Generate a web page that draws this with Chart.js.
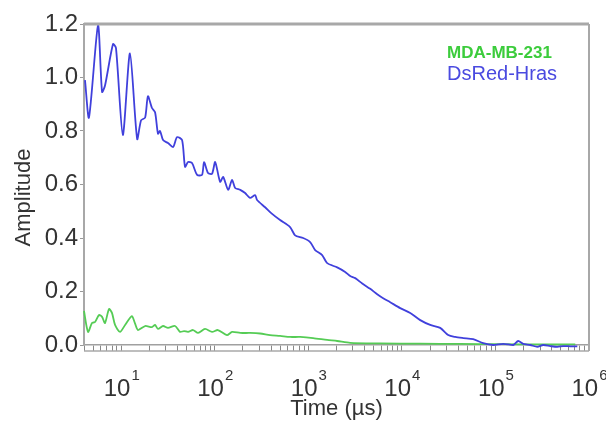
<!DOCTYPE html>
<html>
<head>
<meta charset="utf-8">
<script src="https://cdn.jsdelivr.net/npm/chart.js@4"></script>
<style>
  html, body { margin: 0; padding: 0; background: #fff; }
  #wrap { width: 606px; height: 425px; position: relative; }
</style>
</head>
<body>
<div id="wrap"><canvas id="chart"></canvas></div>
<script>
// time in µs, amplitude
const hrasTime = [4.1, 4.52, 5.65, 6.24, 6.71, 8.17, 8.79, 10.4, 12.4, 14.8, 16.3, 18.0, 19.3, 21.3, 23.0, 24.7, 26.0, 28.0, 31.6, 35.8, 39.5, 44.7, 48.1, 51.8, 57.1, 64.7, 73.1, 76.8, 84.7, 93.5, 101, 114, 123, 139, 153, 165, 187, 211, 238, 270, 283, 345, 410, 499, 638, 722, 880, 1045, 1182, 1405, 1590, 2033, 2476, 2800, 3170, 3767, 4585, 5446, 6310, 7495, 9590, 12270, 15700, 20090, 25660, 31260, 37150, 45200, 57800, 73900, 94600, 121000, 155000, 175000, 198000, 235500, 280000, 324000, 385000, 458000, 531000, 631000, 750000];
const hrasAmp = [0.99, 0.85, 1.195, 0.946, 0.97, 1.125, 1.11, 0.785, 1.09, 0.77, 0.84, 0.85, 0.93, 0.886, 0.87, 0.79, 0.80, 0.766, 0.755, 0.74, 0.777, 0.766, 0.666, 0.684, 0.68, 0.636, 0.636, 0.684, 0.643, 0.64, 0.684, 0.61, 0.628, 0.58, 0.617, 0.587, 0.58, 0.568, 0.55, 0.56, 0.542, 0.515, 0.49, 0.467, 0.441, 0.41, 0.40, 0.385, 0.355, 0.336, 0.306, 0.29, 0.273, 0.258, 0.25, 0.23, 0.21, 0.19, 0.175, 0.16, 0.138, 0.12, 0.093, 0.075, 0.064, 0.037, 0.03, 0.026, 0.022, 0.007, 0.0, 0.004, 0.0, 0.015, 0.004, 0.0, -0.007, 0.0, -0.004, -0.007, -0.004, -0.005, -0.005];

const mdaTime = [4.0, 4.42, 4.87, 5.25, 5.79, 6.24, 6.71, 7.40, 7.96, 8.59, 9.71, 11.0, 13.0, 14.0, 15.1, 18.0, 21.3, 23.0, 24.7, 28.0, 31.6, 37.6, 42.5, 46.9, 51.8, 58.6, 66.3, 78.7, 93.5, 108, 135, 153, 187, 238, 305, 390, 499, 638, 817, 1125, 1590, 2033, 2800, 5860, 15700, 42100, 112000, 301000, 713000];
const mdaAmp = [0.127, 0.049, 0.082, 0.086, 0.112, 0.105, 0.082, 0.135, 0.12, 0.075, 0.049, 0.075, 0.108, 0.082, 0.056, 0.071, 0.067, 0.075, 0.06, 0.071, 0.064, 0.071, 0.049, 0.052, 0.049, 0.056, 0.045, 0.06, 0.049, 0.056, 0.037, 0.049, 0.045, 0.045, 0.043, 0.037, 0.034, 0.03, 0.03, 0.026, 0.019, 0.015, 0.008, 0.006, 0.005, 0.004, 0.003, 0.002, 0.002];

const decades = [1, 2, 3, 4, 5, 6];
const yTicks = [0, 0.2, 0.4, 0.6, 0.8, 1.0, 1.2];
const FONT = '"Liberation Sans", Arial, sans-serif';

const toPoints = (xs, ys) => xs.map((x, i) => ({ x: x, y: ys[i] }));

// frame, bottom tick band, 10^n labels, y title, legend text
const decor = {
  id: 'decor',
  afterDraw(chart) {
    const { ctx, chartArea: a, scales } = chart;
    ctx.save();
    ctx.strokeStyle = '#a8a8a8';
    ctx.lineWidth = 3;
    ctx.beginPath();
    ctx.moveTo(a.left, a.top);
    ctx.lineTo(a.right, a.top);
    ctx.stroke();
    ctx.lineWidth = 2;
    ctx.beginPath();
    ctx.moveTo(a.right, a.top);
    ctx.lineTo(a.right, a.bottom + 6);
    ctx.stroke();
    ctx.lineWidth = 1.5;
    ctx.beginPath();
    ctx.moveTo(a.left, a.bottom + 6);
    ctx.lineTo(a.right, a.bottom + 6);
    ctx.stroke();

    ctx.fillStyle = '#333';
    ctx.textBaseline = 'alphabetic';
    decades.forEach((n) => {
      const x = scales.x.getPixelForValue(Math.pow(10, n));
      ctx.font = '24px ' + FONT;
      const w1 = ctx.measureText('10').width;
      ctx.font = '15px ' + FONT;
      const w2 = ctx.measureText(String(n)).width;
      const x0 = x - (w1 + w2) / 2;
      ctx.font = '24px ' + FONT;
      ctx.textAlign = 'left';
      ctx.fillText('10', x0, a.bottom + 51);
      ctx.font = '15px ' + FONT;
      ctx.fillText(String(n), x0 + w1 + 1, a.bottom + 35);
    });

    // y title sits a little below the axis centre in the original
    ctx.save();
    ctx.translate(24, (a.top + a.bottom) / 2 + 13);
    ctx.rotate(-Math.PI / 2);
    ctx.textAlign = 'center';
    ctx.textBaseline = 'middle';
    ctx.font = '22px ' + FONT;
    ctx.fillText('Amplitude', 0, 0);
    ctx.restore();

    ctx.textAlign = 'left';
    ctx.font = 'bold 17px ' + FONT;
    ctx.fillStyle = '#3ccc3c';
    ctx.fillText('MDA-MB-231', a.right - 142, a.top + 34);
    ctx.font = '20px ' + FONT;
    ctx.fillStyle = '#4a4ae0';
    ctx.fillText('DsRed-Hras', a.right - 142, a.top + 56);
    ctx.restore();
  }
};

new Chart(document.getElementById('chart'), {
  type: 'line',
  data: {
    datasets: [
      { label: 'DsRed-Hras', data: toPoints(hrasTime, hrasAmp), borderColor: '#4040dc', borderWidth: 1.8, pointRadius: 0, tension: 0.25, clip: 6 },
      { label: 'MDA-MB-231', data: toPoints(mdaTime, mdaAmp), borderColor: '#55cc55', borderWidth: 1.8, pointRadius: 0, tension: 0.25, clip: 6 }
    ]
  },
  options: {
    responsive: true,
    maintainAspectRatio: false,
    animation: false,
    layout: { padding: { top: 24, right: 17, bottom: 3, left: 0 } },
    plugins: { legend: { display: false }, tooltip: { enabled: false } },
    scales: {
      x: {
        type: 'logarithmic',
        min: 4,
        max: 1e6,
        afterBuildTicks: (scale) => {
          const t = [];
          for (let e = 0; e <= 6; e++) {
            for (let m = 1; m <= 9; m++) {
              const v = m * Math.pow(10, e);
              if (v >= 4 && v <= 1e6) t.push({ value: v });
            }
          }
          scale.ticks = t;
        },
        afterFit: (scale) => { scale.height = 77; },
        ticks: { display: false, autoSkip: false },
        grid: { drawOnChartArea: false, drawTicks: true, tickLength: 6, color: '#888', lineWidth: 1 },
        border: { color: '#a0a0a0', width: 1.5 },
        title: { display: true, text: 'Time (µs)', color: '#333', font: { size: 22, family: FONT }, padding: { top: 0, bottom: 0 } }
      },
      y: {
        min: 0,
        max: 1.2,
        afterBuildTicks: (scale) => { scale.ticks = yTicks.map((v) => ({ value: v })); },
        afterFit: (scale) => { scale.width = 84; },
        ticks: { color: '#333', padding: 2, font: { size: 24, family: FONT }, callback: (v) => Number(v).toFixed(1) },
        grid: { drawOnChartArea: false, tickLength: 4, color: '#999' },
        border: { color: '#a8a8a8', width: 2 },
        title: { display: false }
      }
    }
  },
  plugins: [decor]
});
</script>
</body>
</html>
